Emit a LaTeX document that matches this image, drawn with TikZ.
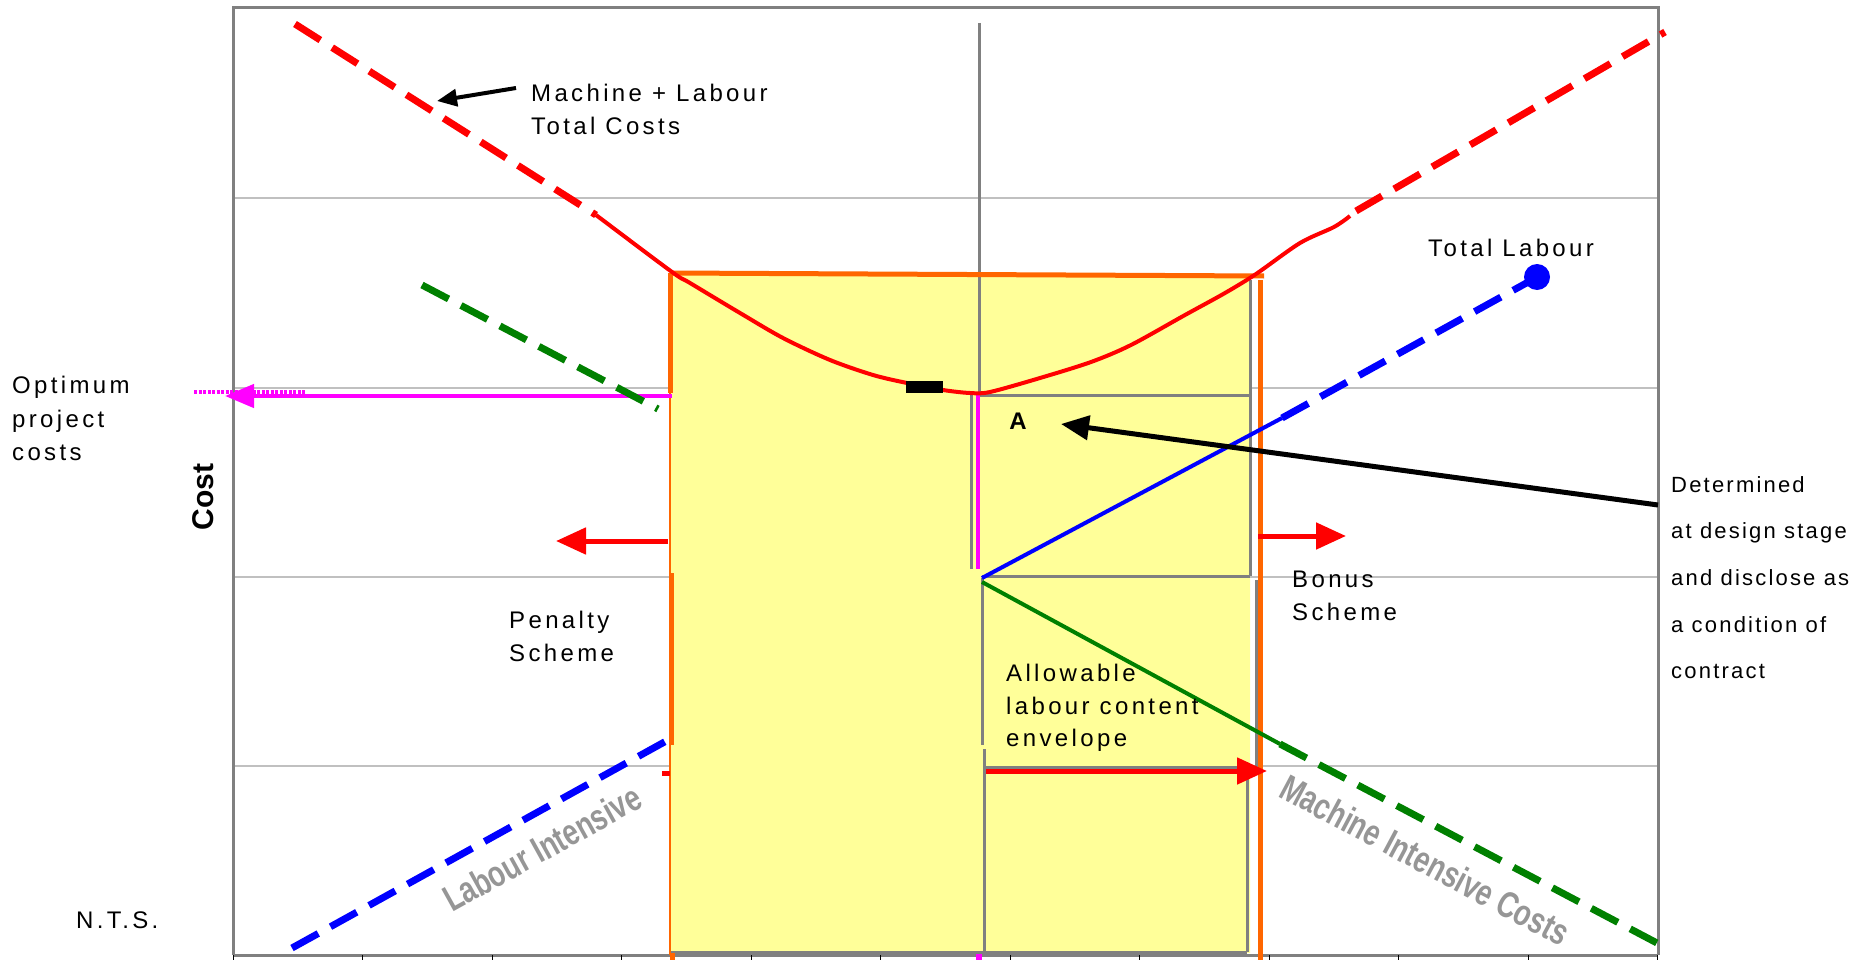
\documentclass[tikz,border=0pt]{standalone}
\usepackage{fontspec}
\setmainfont{Liberation Sans}
\newfontfamily\spaced[LetterSpace=14]{Liberation Sans}
\newfontfamily\spacedn[LetterSpace=10]{Liberation Sans}
\usetikzlibrary{arrows.meta}
\definecolor{cyel}{HTML}{FFFF99}
\definecolor{corange}{HTML}{FF6600}
\definecolor{cred}{HTML}{FF0000}
\definecolor{cgreen}{HTML}{008000}
\definecolor{cblue}{HTML}{0000FF}
\definecolor{cmag}{HTML}{FF00FF}
\definecolor{cgrid}{HTML}{C0C0C0}
\definecolor{cframe}{HTML}{808080}
\definecolor{cword}{HTML}{969696}
\begin{document}
\begin{tikzpicture}[x=1pt,y=-1pt,
  lbl/.style={anchor=base west, inner sep=0pt, font=\spaced\fontsize{24}{28}\selectfont},
  lbln/.style={anchor=base west, inner sep=0pt, font=\spacedn\fontsize{22}{26}\selectfont},
  wordart/.style={inner sep=0pt, text=cword, font=\fontsize{32}{38}\selectfont\bfseries},
  gridline/.style={cgrid, line width=1.5pt},
  gline/.style={cframe, line width=3pt},
  oline/.style={corange, line width=5pt},
  dsh/.style={line width=7pt, dash pattern=on 30pt off 14pt},
  redarrow/.style={cred, line width=5pt, -{Triangle[length=30pt,width=26pt]}},
  blackarrow/.style={black, line width=5pt, -{Triangle[length=28pt,width=24pt]}}
]
\useasboundingbox (0,0) rectangle (1857,960);
\fill[white] (0,0) rectangle (1857,960);
% gridlines
\foreach \yy in {198,388,577,766} \draw[gridline] (233,\yy) -- (1658,\yy);
% frame
\draw[cframe, line width=3pt] (233,955) -- (233,8) -- (1658,8) -- (1658,955);
\draw[cframe, line width=3pt] (233,955) -- (1658,955);
\foreach \k in {0,...,11} \draw[black, line width=1pt] ({233+129.5*\k},955) -- ({233+129.5*\k},962);
% yellow envelope
\fill[cyel] (670,273) -- (1250,275) -- (1250,953) -- (670,953) -- cycle;
% grey outlines of the boxes
\draw[gline] (979,23) -- (979,393);
\draw[gline] (971,393) -- (971,569);
\draw[gline] (980,395) -- (1250,395);
\draw[gline] (1250,280) -- (1250,576);
\draw[gline] (982,576) -- (1250,576);
\draw[gline] (982,578) -- (982,745);
\draw[gline] (1256,580) -- (1256,767);
\draw[gline] (985,767) -- (1247,767);
\draw[gline] (984,749) -- (984,952);
\draw[gline] (1247,767) -- (1247,952);
\draw[gline] (671,952) -- (1247,952);
% orange envelope lines
\draw[oline] (670,273) -- (1264,276);
\draw[oline] (670,273) -- (670,393);
\draw[corange, line width=1.2pt] (670,393) -- (670,955);
\draw[oline] (671,573) -- (671,745);
\draw[oline] (672,953) -- (672,960);
\draw[oline] (1260,280) -- (1260,960);
% magenta
\draw[cmag, line width=4.5pt] (978,393) -- (978,569);
\draw[cmag, line width=6pt] (979,954) -- (979,960);
\draw[cmag, line width=4pt, dash pattern=on 3pt off 1.5pt] (194,392) -- (306,392);
\coordinate (magS) at (672,396);
\coordinate (magE) at (225,396);
\draw[cmag, line width=4.5pt, -{Triangle[length=29pt,width=23pt]}] (magS) -- (magE);
% green machine line
\draw[cgreen, dsh] (422,285) -- (658,409);
\draw[cgreen, line width=4pt] (982,582) -- (1280,744);
\draw[cgreen, dsh] (1280,744) -- (1657,943);
% blue labour lines
\draw[cblue, dsh] (292,948) -- (668,740);
\draw[cblue, line width=4pt] (982,578) -- (1282,418);
\draw[cblue, dsh] (1282,418) -- (1530,281);
\fill[cblue] (1537,277) circle (13);
% red total cost curve
\draw[cred, dsh] (295,24) -- (596,215);
\draw[cred, line width=4pt] plot[smooth, tension=0.5] coordinates {(596,215) (672,272) (690,283) (740,313) (783,338) (830,360) (873,375) (907,383) (943,390) (970,393) (990,392) (1040,378) (1091,362) (1131,345) (1185,315) (1225,293) (1256,274) (1300,243) (1334,227) (1350,216)};
\draw[cred, dsh] (1356,211) -- (1665,32);
\fill[black] (906,381) rectangle (943,393);
\draw[cred, line width=5pt] (662,773) -- (670,773);
% red arrows
\coordinate (penS) at (668,541);
\coordinate (penE) at (556,541);
\coordinate (bonS) at (1258,536);
\coordinate (bonE) at (1346,536);
\coordinate (envS) at (986,771);
\coordinate (envE) at (1267,771);
\draw[redarrow] (penS) -- (penE);
\draw[redarrow] (bonS) -- (bonE);
\draw[redarrow] (envS) -- (envE);
% black arrows
\coordinate (mlS) at (516,88);
\coordinate (mlE) at (437,101);
\draw[black, line width=4pt, -{Triangle[length=20pt,width=17pt]}] (mlS) -- (mlE);
\coordinate (detS) at (1658,505);
\coordinate (detE) at (1061,424);
\draw[blackarrow] (detS) -- (detE);
% texts
\node[lbl] (ml1) at (531,102) {Machine + Labour};
\node[lbl] (ml2) at (531,135) {Total Costs};
\node[lbl] (tl) at (1428,256) {Total Labour};
\node[lbl] (op1) at (12,393) {Optimum};
\node[lbl] (op2) at (12,427) {project};
\node[lbl] (op3) at (12,460) {costs};
\node[rotate=90, inner sep=0pt, font=\fontsize{30}{36}\selectfont\bfseries] (cost) at (203,497) {Cost};
\node[inner sep=0pt, font=\fontsize{24}{28}\selectfont\bfseries] (a) at (1018,421) {A};
\node[lbl] (pen1) at (509,628) {Penalty};
\node[lbl] (pen2) at (509,661) {Scheme};
\node[lbl] (bon1) at (1292,587) {Bonus};
\node[lbl] (bon2) at (1292,620) {Scheme};
\node[lbl] (al1) at (1006,681) {Allowable};
\node[lbl] (al2) at (1006,714) {labour content};
\node[lbl] (al3) at (1006,746) {envelope};
\node[lbln] (d1) at (1671,492) {Determined};
\node[lbln] (d2) at (1671,538) {at design stage};
\node[lbln] (d3) at (1671,585) {and disclose as};
\node[lbln] (d4) at (1671,632) {a condition of};
\node[lbln] (d5) at (1671,678) {contract};
\node[lbl] (nts) at (76,928) {N.T.S.};
\node[wordart, rotate=29] (li) at (542,848) {\scalebox{0.86}[1.15]{Labour Intensive}};
\node[wordart, rotate=-28] (mi) at (1425,860) {\scalebox{0.86}[1.15]{Machine Intensive Costs}};
\end{tikzpicture}
\end{document}
